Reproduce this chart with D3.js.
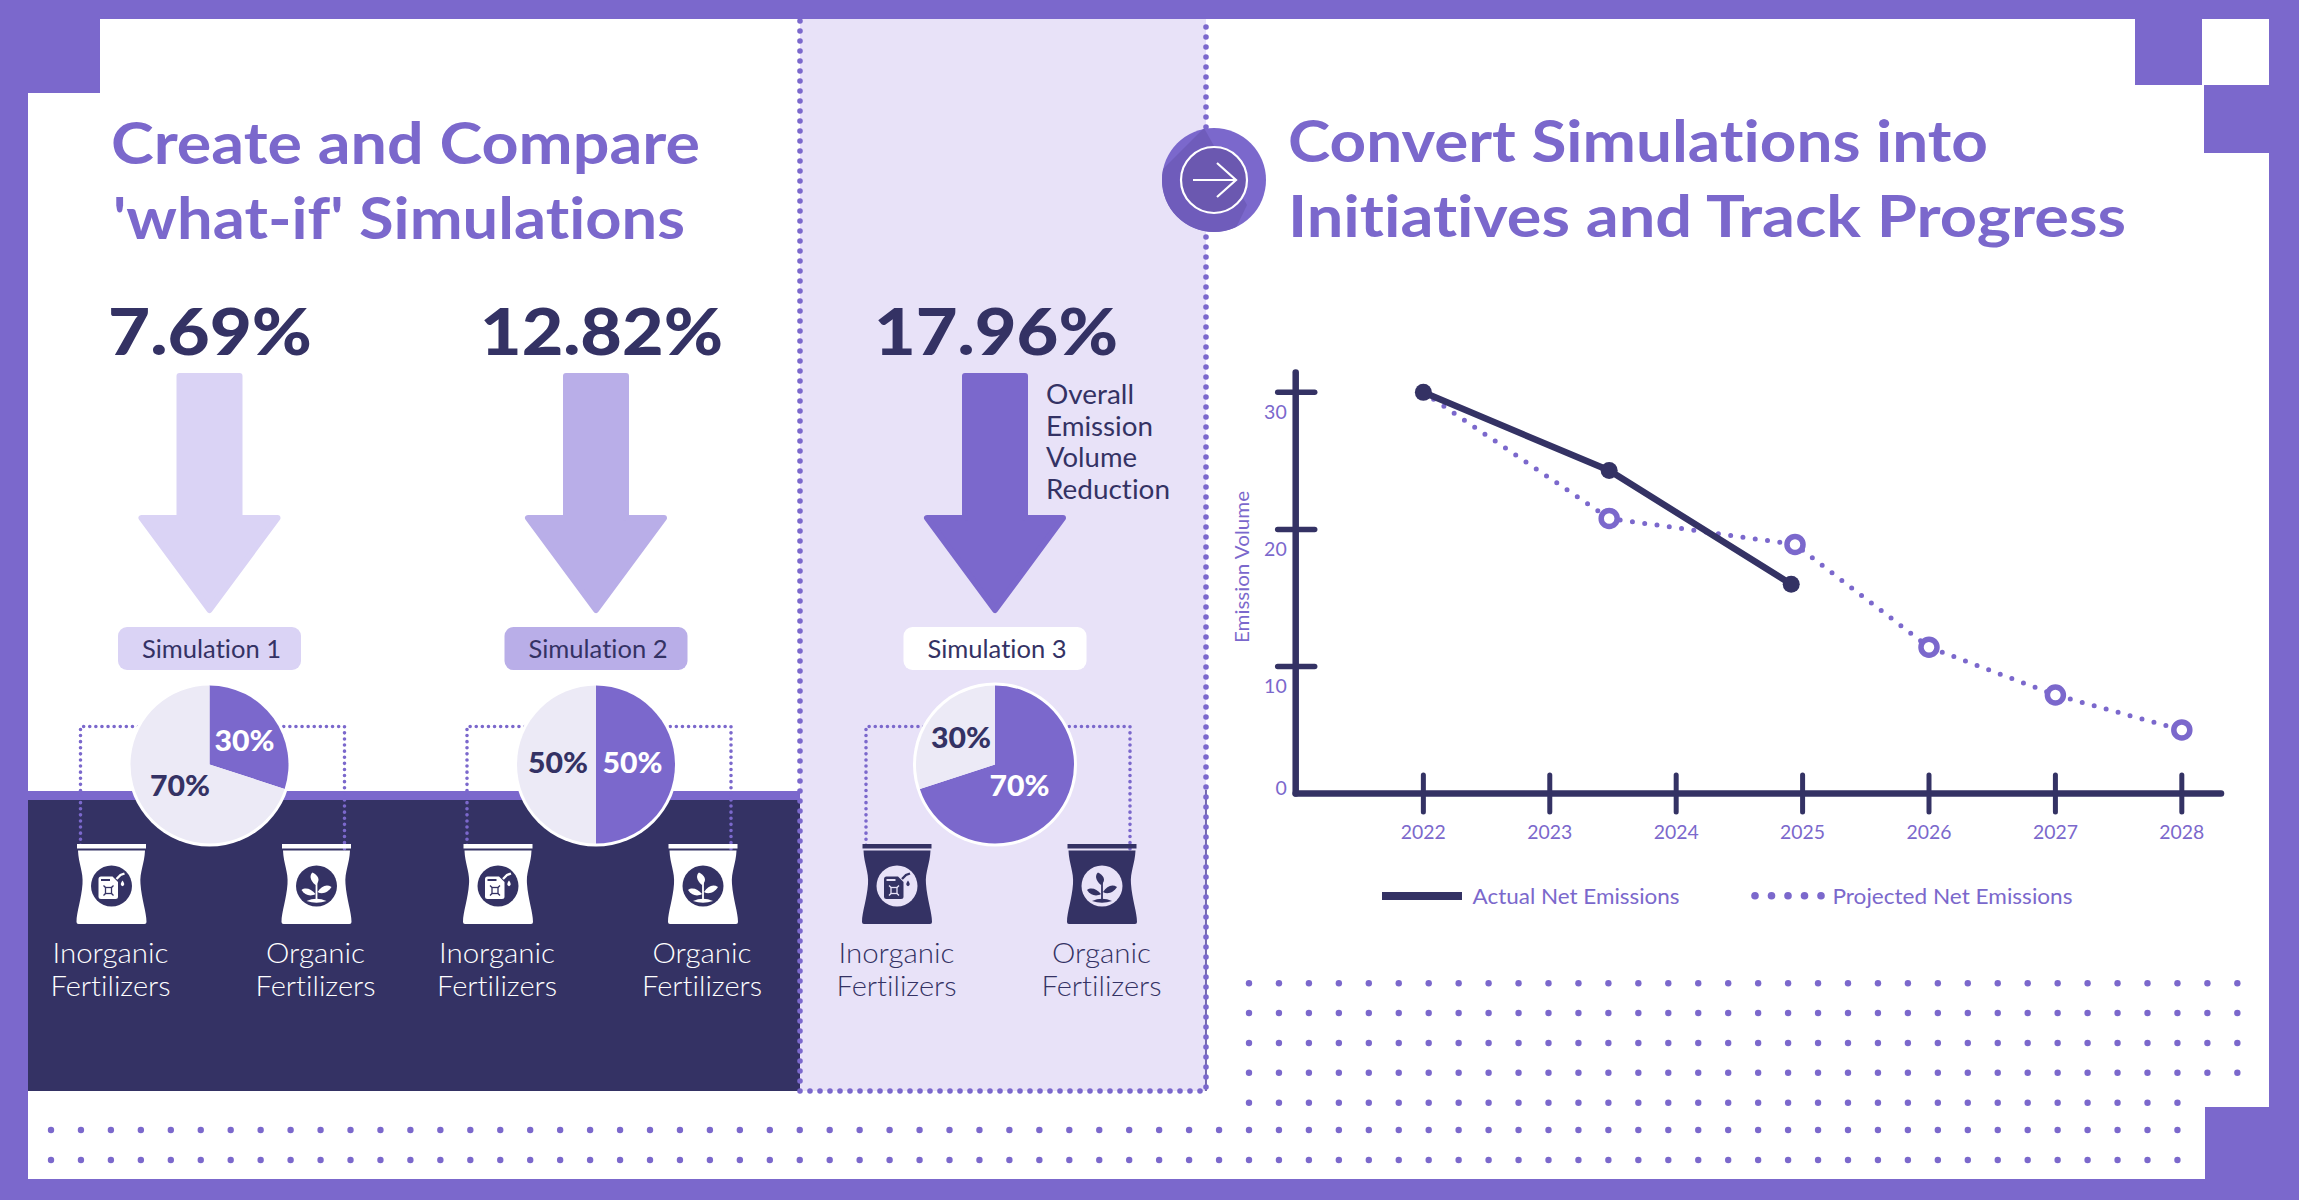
<!DOCTYPE html>
<html>
<head>
<meta charset="utf-8">
<script src="https://cdn.jsdelivr.net/npm/d3@7"></script>
<style>
  html, body { margin: 0; padding: 0; background: #fff; }
  svg { display: block; font-family: Lato, sans-serif; font-variant-ligatures: none; }
</style>
</head>
<body>
<svg id="chart" width="2299" height="1200"></svg>
<script>
// Chart values
const simulations = ['Simulation 1', 'Simulation 2', 'Simulation 3'];
const reductions = ['7.69%', '12.82%', '17.96%'];
const organicShare = [30, 50, 70];
const inorganicShare = [70, 50, 30];
const years = [2022, 2023, 2024, 2025, 2026, 2027, 2028];
const yTicks = [0, 10, 20, 30];
const actualYears = [2022, 2023.47, 2024.91];
const actualValues = [30, 24.3, 16];
const projectedYears = [2022, 2023.47, 2024.94, 2026, 2027, 2028];
const projectedValues = [30, 20.8, 18.9, 11.4, 7.75, 5];

const purple = '#7b68cc';
const navy = '#343264';
const panel = '#e8e2f8';
const paleSlice = '#eceaf6';

const svg = d3.select('#chart');

function text(parent, x, y, str, opts) {
  const o = opts || {};
  const t = parent.append('text')
    .attr('x', x).attr('y', y)
    .attr('fill', o.fill || navy)
    .attr('font-size', o.size)
    .attr('font-weight', o.weight || 400)
    .attr('text-anchor', o.anchor || 'start')
    .text(str);
  if (o.width) t.attr('textLength', o.width).attr('lengthAdjust', 'spacingAndGlyphs');
  return t;
}

function dottedLine(parent, points, width, gap, color) {
  return parent.append('path')
    .attr('d', d3.line()(points))
    .attr('fill', 'none')
    .attr('stroke', color || purple)
    .attr('stroke-width', width)
    .attr('stroke-linecap', 'round')
    .attr('stroke-linejoin', 'round')
    .attr('stroke-dasharray', `0 ${gap}`);
}

// Frame
const frame = svg.append('g').attr('fill', purple);
[
  [0, 0, 2299, 19], [0, 0, 28, 1200], [0, 1179, 2299, 21], [2269, 0, 30, 1200],
  [0, 0, 100, 93], [2135, 0, 67, 85], [2204, 85, 95, 68], [2205, 1107, 94, 93],
].forEach(r => frame.append('rect').attr('x', r[0]).attr('y', r[1]).attr('width', r[2]).attr('height', r[3]));

// Background dot grids
const gridStep = 29.95;
const gridRows = [
  { y: 983.3, from: 0, to: 33 }, { y: 1013, from: 0, to: 33 }, { y: 1043, from: 0, to: 33 }, { y: 1072.7, from: 0, to: 33 },
  { y: 1102.7, from: 0, to: 31 }, { y: 1130, from: -40, to: 31 }, { y: 1160, from: -40, to: 31 },
];
const dots = svg.append('g').attr('fill', purple);
gridRows.forEach(row => {
  dots.selectAll(null).data(d3.range(row.from, row.to + 1)).join('circle')
    .attr('cx', i => 1249 + i * gridStep).attr('cy', row.y).attr('r', 3.2);
});

// Dark band and the highlighted panel
svg.append('rect').attr('x', 28).attr('y', 791).attr('width', 772).attr('height', 10).attr('fill', purple);
svg.append('rect').attr('x', 28).attr('y', 800).attr('width', 772).attr('height', 291).attr('fill', navy);
svg.append('rect').attr('x', 800).attr('y', 19).attr('width', 406).attr('height', 1072).attr('fill', panel);
svg.append('line').attr('x1', 1206).attr('x2', 1206).attr('y1', 790).attr('y2', 1091).attr('stroke', '#4b3f95').attr('stroke-width', 1.5);
dottedLine(svg, [[800, 21], [800, 1091], [1206, 1091], [1206, 21]], 5.6, 10);

// Titles
const titleOpts = { fill: purple, size: 58, weight: 700 };
text(svg, 111, 164, 'Create and Compare', { ...titleOpts, width: 589 });
text(svg, 113, 239, "'what-if' Simulations", { ...titleOpts, width: 572 });
text(svg, 1288, 162, 'Convert Simulations into', { ...titleOpts, width: 700 });
text(svg, 1288, 237, 'Initiatives and Track Progress', { ...titleOpts, width: 838 });

// Simulation columns
const centres = [209.5, 596, 995];
const arrowFill = ['#dad3f5', '#b9aee8', purple];
const pillFill = ['#dad3f5', '#b9aee8', '#ffffff'];
const numberX = [108, 480, 874];
const numberW = [204, 243, 244];
const bagOffsets = [-98, 107];
const connectorOffsets = [-129, 135];
// label offsets from the pie centre: [organic, inorganic]
const pieLabelOffsets = [
  [[35, -13.6], [-29.5, 31.6]],
  [[36.5, 8], [-38, 8]],
  [[24.5, 31], [-34, -17]],
];
const bagLabels = [['Inorganic', 'Fertilizers'], ['Organic', 'Fertilizers']];
const bagBody = 'M-33.5,6.5 L33.5,6.5 C33,20 28,28 29,40 C30,55 35,68 35,78 Q35,80 33,80 L-33,80 Q-35,80 -35,78 C-35,68 -30,55 -29,40 C-28,28 -33,20 -33.5,6.5Z';

function drawCan(g, fg, bg) {
  g.append('path').attr('fill', fg)
    .attr('d', 'M-13,-7 Q-13,-9.5 -10.5,-9.5 L1,-9.5 L6.5,-4 L6.5,10.5 Q6.5,13 4,13 L-10.5,13 Q-13,13 -13,10.5Z');
  g.append('rect').attr('x', -10.5).attr('y', -7).attr('width', 9).attr('height', 2).attr('fill', bg);
  g.append('rect').attr('x', -6).attr('y', 1.5).attr('width', 6).attr('height', 6).attr('fill', 'none').attr('stroke', bg).attr('stroke-width', 1.3);
  g.append('path').attr('stroke', bg).attr('stroke-width', 1.3)
    .attr('d', 'M-8,-0.5 L-6,1.5 M2,-0.5 L0,1.5 M-8,9.5 L-6,7.5 M2,9.5 L0,7.5');
  g.append('path').attr('fill', 'none').attr('stroke', fg).attr('stroke-width', 2.4)
    .attr('d', 'M5,-7 L9,-11 L13,-12.5');
  g.append('path').attr('fill', fg).attr('d', 'M11,-5.5 C13,-2.5 13.5,-1 11,0.2 C8.5,-1 9,-2.5 11,-5.5Z');
}

function drawPlant(g, fg) {
  g.append('line').attr('y1', 13).attr('y2', -5).attr('stroke', fg).attr('stroke-width', 1.8);
  g.append('path').attr('fill', fg).attr('d', 'M-1,-1 C-7,-6 -7,-11 -4,-13.5 C1,-11 5,-6 -1,-1Z');
  g.append('path').attr('fill', fg).attr('d', 'M-1,8 C-5,3 -11,1 -15,4 C-12,9 -6,11 -1,8Z');
  g.append('path').attr('fill', fg).attr('d', 'M1,6 C5,0 10,-2 15,1 C12,6 6,9 1,6Z');
  g.append('path').attr('fill', fg).attr('d', 'M-10,15 Q0,10.5 10,15 Q0,18.5 -10,15Z');
}

const pie = d3.pie().sort(null);
const arc = d3.arc().innerRadius(0).outerRadius(79);

simulations.forEach((name, s) => {
  const cx = centres[s];
  const col = svg.append('g');

  text(col, numberX[s], 355, reductions[s], { size: 65, weight: 900, width: numberW[s] });

  // Down arrow, inset by half of the rounding stroke
  col.append('path')
    .attr('fill', arrowFill[s]).attr('stroke', arrowFill[s]).attr('stroke-width', 6).attr('stroke-linejoin', 'round')
    .attr('d', d3.line()([
      [cx - 30, 376], [cx + 30, 376], [cx + 30, 518], [cx + 68, 518],
      [cx, 610], [cx - 68, 518], [cx - 30, 518],
    ]) + 'Z');

  col.append('rect')
    .attr('x', cx - 91.5).attr('y', 627).attr('width', 183).attr('height', 43).attr('rx', 9)
    .attr('fill', pillFill[s]);
  text(col, cx + 2, 658, name, { size: 25, anchor: 'middle', width: 139 });

  // Connector dots go under the pie and over the bag tops
  const connectors = col.append('g');
  connectorOffsets.forEach(off => {
    dottedLine(connectors, [[cx + off * 0.55, 726.5], [cx + off, 726.5], [cx + off, 850]], 3.6, 6.1);
  });

  const pieG = col.append('g').attr('transform', `translate(${cx},764.5)`);
  pieG.append('circle').attr('r', 82).attr('fill', '#fff');
  pieG.selectAll('path').data(pie([organicShare[s], inorganicShare[s]])).join('path')
    .attr('d', arc)
    .attr('fill', (d, i) => (i === 0 ? purple : paleSlice));
  [organicShare[s], inorganicShare[s]].forEach((v, i) => {
    const off = pieLabelOffsets[s][i];
    text(pieG, off[0], off[1], `${v}%`, {
      size: 29, weight: 900, anchor: 'middle', width: 60, fill: i === 0 ? '#fff' : navy,
    });
  });

  // Bags
  const bagColor = s === 2 ? navy : '#fff';
  const bagInner = s === 2 ? panel : navy;
  bagOffsets.forEach((off, b) => {
    const bag = col.append('g').attr('transform', `translate(${cx + off},844)`);
    bag.append('rect').attr('x', -34.5).attr('width', 69).attr('height', 4.5).attr('fill', bagColor);
    bag.append('path').attr('d', bagBody).attr('fill', bagColor);
    const icon = bag.append('g').attr('transform', 'translate(0,42)');
    icon.append('circle').attr('r', 20.5).attr('fill', bagInner);
    if (b === 0) drawCan(icon, bagColor, bagInner);
    else drawPlant(icon, bagColor);
    bagLabels[b].forEach((line, l) => {
      text(col, cx + off - (s === 2 ? 0.5 : 1), 963 + l * 33, line, {
        size: 27, weight: 300, anchor: 'middle', fill: bagColor,
        width: line === 'Fertilizers' ? 120 : (line === 'Inorganic' ? 116 : 99),
      });
    });
  });
});

// Side note in the panel
['Overall', 'Emission', 'Volume', 'Reduction'].forEach((line, i) => {
  const widths = [88, 107, 91, 124];
  text(svg, 1046, 404 + i * 31.5, line, { size: 26, width: widths[i] });
});

// Arrow badge between the panels
svg.append('clipPath').attr('id', 'badge-clip').append('circle').attr('cx', 1214).attr('cy', 180).attr('r', 52);
svg.append('circle').attr('cx', 1214).attr('cy', 180).attr('r', 52).attr('fill', purple);
svg.append('path').attr('clip-path', 'url(#badge-clip)').attr('fill', '#6f5cbb')
  .attr('d', 'M1204,128 L1247,205 L1234,232 L1162,232 L1162,170Z');
const badge = svg.append('g').attr('transform', 'translate(1214,180)');
badge.append('circle').attr('r', 33).attr('fill', '#6b58b0').attr('stroke', '#fff').attr('stroke-width', 2.2);
badge.append('path').attr('fill', 'none').attr('stroke', '#fff').attr('stroke-width', 2.2)
  .attr('d', 'M-21,0 L22,0 M3,-17 L22,0 L3,17');

// Line chart
const x = d3.scaleLinear().domain([2020.99, 2028.31]).range([1295.7, 2221]);
const y = d3.scaleLinear().domain([0, 10, 31.45]).range([793.5, 666.4, 372.5]);

const xAxis = d3.axisBottom(x).tickValues(years).tickFormat(d3.format('d')).tickSizeOuter(0).offset(0);
const yAxis = d3.axisLeft(y).tickValues(yTicks).tickFormat(d3.format('d')).tickSizeOuter(0).offset(0);

const yG = svg.append('g').attr('transform', 'translate(1295.7,0)').call(yAxis);
const xG = svg.append('g').attr('transform', 'translate(0,793.5)').call(xAxis);

[xG, yG].forEach(g => {
  g.select('.domain').attr('stroke', navy).attr('stroke-width', 6.5).attr('stroke-linecap', 'round');
  g.selectAll('.tick text').attr('fill', purple).attr('font-size', 19.5).attr('font-family', 'Lato, sans-serif').attr('font-weight', 400);
});
xG.selectAll('.tick line').attr('y1', -18.5).attr('y2', 18.5).attr('stroke', navy).attr('stroke-width', 5).attr('stroke-linecap', 'round');
xG.selectAll('.tick text').attr('y', 45).attr('dy', 0).attr('textLength', 45).attr('lengthAdjust', 'spacingAndGlyphs');
yG.selectAll('.tick line').attr('x1', -18).attr('x2', 19).attr('stroke', navy).attr('stroke-width', 5.5).attr('stroke-linecap', 'round')
  .attr('display', d => (d === 0 ? 'none' : null));
yG.selectAll('.tick text').attr('x', -9).attr('dy', 0).attr('y', d => (d === 0 ? 1.5 : 27));

text(svg, 0, 0, 'Emission Volume', { fill: purple, size: 19, anchor: 'middle', width: 152 })
  .attr('transform', 'translate(1249,567) rotate(-90)');

const line = d3.line().x(d => x(d[0])).y(d => y(d[1]));
const projected = d3.zip(projectedYears, projectedValues);
const actual = d3.zip(actualYears, actualValues);

svg.append('path').attr('d', line(projected)).attr('fill', 'none')
  .attr('stroke', purple).attr('stroke-width', 5).attr('stroke-linecap', 'round').attr('stroke-dasharray', '0 12.4');
svg.append('g').selectAll('circle').data(projected.slice(1)).join('circle')
  .attr('cx', d => x(d[0])).attr('cy', d => y(d[1])).attr('r', 8)
  .attr('fill', '#fff').attr('stroke', purple).attr('stroke-width', 5.5);

svg.append('path').attr('d', line(actual)).attr('fill', 'none').attr('stroke', navy).attr('stroke-width', 6.5);
svg.append('g').selectAll('circle').data(actual).join('circle')
  .attr('cx', d => x(d[0])).attr('cy', d => y(d[1])).attr('r', 8.5).attr('fill', navy);

// Legend
svg.append('rect').attr('x', 1382).attr('y', 892).attr('width', 80).attr('height', 8).attr('fill', navy);
text(svg, 1472.6, 904, 'Actual Net Emissions', { fill: purple, size: 22, weight: 400, width: 207 });
svg.append('g').selectAll('circle').data([0, 1, 2, 3, 4]).join('circle')
  .attr('cx', i => 1755 + i * 16.5).attr('cy', 895.7).attr('r', 3.8).attr('fill', purple);
text(svg, 1832.5, 904, 'Projected Net Emissions', { fill: purple, size: 22, weight: 400, width: 240 });
</script>
</body>
</html>
